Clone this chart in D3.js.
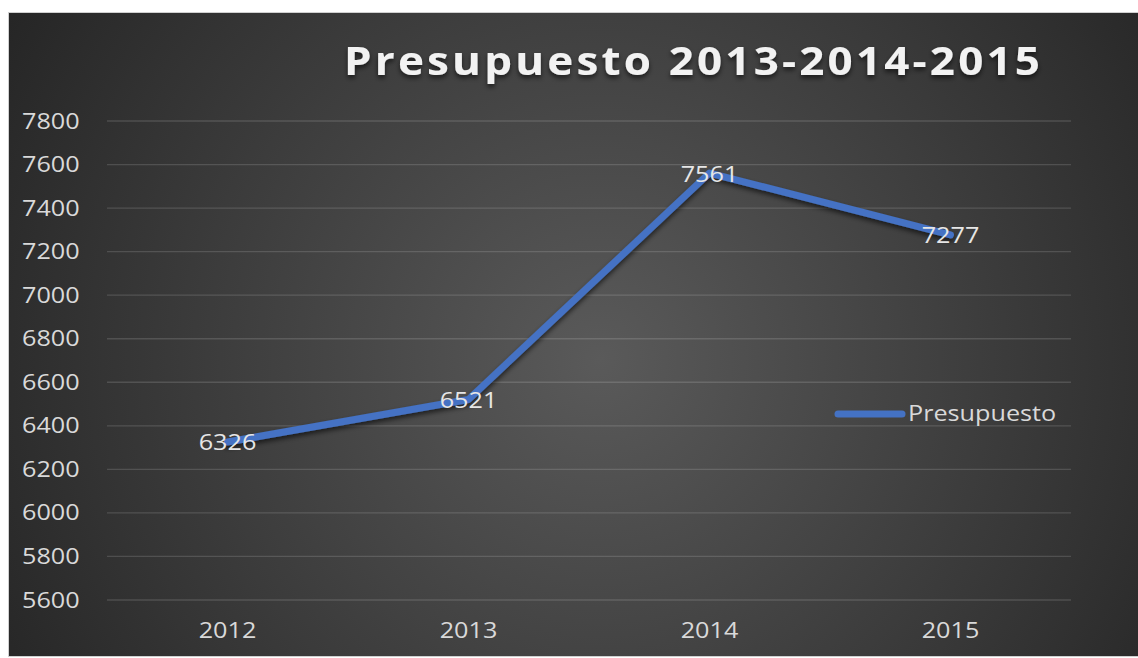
<!DOCTYPE html>
<html><head><meta charset="utf-8">
<script src="https://cdn.jsdelivr.net/npm/d3@7"></script>
<style>body{margin:0;background:#fff}svg{display:block}</style>
</head><body>
<svg id="c" width="1138" height="658"></svg>
<script>
const categories = ["2012","2013","2014","2015"];
const values = [6326, 6521, 7561, 7277];
const yTicks = [5600,5800,6000,6200,6400,6600,6800,7000,7200,7400,7600,7800];
const seriesName = "Presupuesto";
const title = "Presupuesto 2013-2014-2015";

const svg = d3.select("#c");
const defs = svg.append("defs");
const rg = defs.append("radialGradient").attr("id","bg").attr("gradientUnits","userSpaceOnUse")
  .attr("cx",600).attr("cy",360).attr("r",720);
rg.append("stop").attr("offset","0").attr("stop-color","#5a5a5a");
rg.append("stop").attr("offset","1").attr("stop-color","#232323");
const sh = defs.append("filter").attr("id","sh").attr("x","-10%").attr("y","-10%").attr("width","120%").attr("height","130%");
sh.append("feDropShadow").attr("dx",0).attr("dy",3).attr("stdDeviation",2.5).attr("flood-color","#000").attr("flood-opacity",0.6);

svg.append("rect").attr("x",8.5).attr("y",12.5).attr("width",1135).attr("height",644)
  .attr("fill","url(#bg)").attr("stroke","#d0d0d0").attr("stroke-width",1);

const x = d3.scaleBand().domain(categories).range([107,1071]);
const y = d3.scaleLinear().domain([5600,7800]).range([600,121]);

const font = "'Open Sans', sans-serif";
function stext(g, tx, ty, str, size, anchor, fill, weight){
  return g.append("text").attr("transform",`translate(${tx},${ty}) scale(1.2,1)`)
    .attr("text-anchor",anchor).attr("font-family",font).attr("font-size",size)
    .attr("font-weight",weight||400).attr("fill",fill).text(str);
}

// gridlines
svg.append("g").selectAll("line").data(yTicks).join("line")
  .attr("x1",107).attr("x2",1071).attr("y1",d=>y(d)).attr("y2",d=>y(d))
  .attr("stroke","rgba(255,255,255,0.14)").attr("stroke-width",1.3);

// y axis labels
const ya = svg.append("g");
yTicks.forEach(t=>stext(ya, 22, y(t)+7.5, String(t), 21, "start", "#d9d9d9"));
// x axis labels
const xa = svg.append("g");
categories.forEach(c=>stext(xa, x(c)+x.bandwidth()/2, 638, c, 21, "middle", "#d9d9d9"));

// title
svg.append("text").attr("transform","translate(344,75) scale(1.1,1)").attr("font-family",font).attr("font-size",40)
  .attr("font-weight",700).attr("fill","#f2f2f2").attr("textLength",696/1.1).attr("lengthAdjust","spacing")
  .attr("filter","url(#sh)").text(title);

// line
const line = d3.line().x((d,i)=>x(categories[i])+x.bandwidth()/2).y(d=>y(d));
svg.append("path").datum(values).attr("d",line).attr("fill","none")
  .attr("stroke","#4472c4").attr("stroke-width",7).attr("stroke-linecap","round").attr("stroke-linejoin","round")
  .attr("filter","url(#sh)");

// data labels
const dl = svg.append("g");
values.forEach((v,i)=>stext(dl, x(categories[i])+x.bandwidth()/2, y(v)+8.5, String(v), 21, "middle", "#e6e6e6"));

// legend
svg.append("line").attr("x1",838).attr("x2",902).attr("y1",414).attr("y2",414)
  .attr("stroke","#4472c4").attr("stroke-width",7).attr("stroke-linecap","round");
stext(svg, 908, 421, seriesName, 21, "start", "#d9d9d9");
</script>
</body></html>
